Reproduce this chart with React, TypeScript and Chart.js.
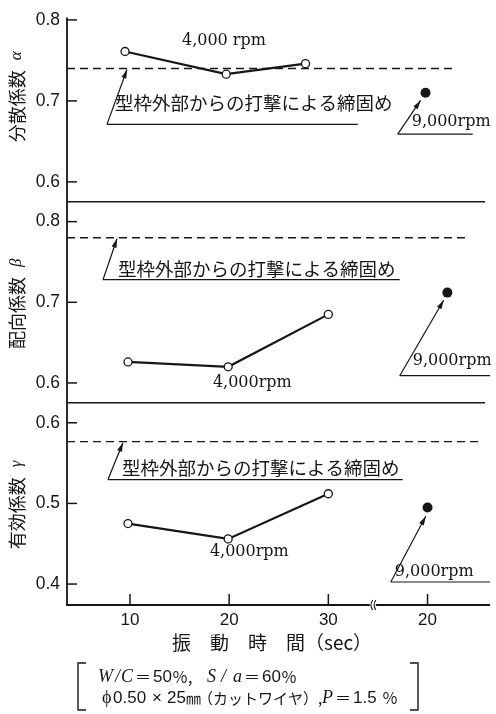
import React, { useEffect, useRef } from 'react';
import { Chart, registerables } from 'chart.js';

Chart.register(...registerables);

// ---------- data ----------
// x axis: vibration time (sec). 40 is the "20 sec" column at 9,000 rpm, after the axis break
const xTickValues = [10, 20, 30, 40];
const xTickLabels = ['10', '20', '30', '20'];
const xRange = [3.65, 46.3];
const xBreak = 34.48;

const alphaTicks = [0.6, 0.7, 0.8];
const betaTicks = [0.6, 0.7, 0.8];
const gammaTicks = [0.4, 0.5, 0.6];
const alphaRange = [0.5755, 0.803];
const betaRange = [0.5753, 0.8247];
const gammaRange = [0.374, 0.6247];

// 4,000 rpm (open circles)
const alphaTime4000 = [9.5, 19.7, 27.7];
const alpha4000 = [0.761, 0.733, 0.746];
const time4000 = [9.8, 19.9, 30.0];
const beta4000 = [0.626, 0.62, 0.685];
const gamma4000 = [0.475, 0.456, 0.512];

// 9,000 rpm, 20 sec (filled dots): alpha, beta, gamma
const time9000 = [39.8, 42.0, 40.0];
const value9000 = [0.71, 0.712, 0.495];

// external form-vibration compaction reference (dashed): alpha, beta, gamma
const refValues = [0.74, 0.78, 0.5765];
const refEnds = [42.54, 44.25, 45.26];

const yTitles = ['分散係数', '配向係数', '有効係数'];
const yGreek = ['α', 'β', 'γ'];
const rpm4000Labels = ['4,000 rpm', '4,000rpm', '4,000rpm'];
const rpm9000Label = '9,000rpm';
const refLabel = '型枠外部からの打撃による締固め';
const xTitle = '振　動　時　間（sec）';

// ---------- styles / layout ----------
const INK = '#161616';
const SERIF = '"Liberation Serif", "DejaVu Serif", serif';
const SANS = '"Liberation Sans", Arial, sans-serif';
const RPMFONT = '"DejaVu Serif", serif';
const CJK = '"Noto Sans CJK JP", sans-serif';
const separatorEnd = 45.8;

const panels = [
  {
    axis: 'yA', ticks: alphaTicks, range: alphaRange, weight: 185, order: 3,
    rpm4: { x: 15.24, y: 0.774 },
    refText: { x: 8.49, y: 0.698 },
    refUnder: { x0: 7.68, x1: 32.97, y: 0.671 },
    refTipX: 9.7,
    rpm9: { x: 38.41, y: 0.674 },
    rpm9Under: { x0: 37.0, x1: 44.56, y: 0.659 },
    rpm9Tip: { x: 39.3, y: 0.7006 },
    titleBottom: 0.649,
  },
  {
    axis: 'yB', ticks: betaTicks, range: betaRange, weight: 202, order: 2,
    rpm4: { x: 18.36, y: 0.6 },
    refText: { x: 8.79, y: 0.741 },
    refUnder: { x0: 7.28, x1: 37.2, y: 0.728 },
    refTipX: 8.69,
    rpm9: { x: 38.51, y: 0.627 },
    rpm9Under: { x0: 37.2, x1: 46.3, y: 0.609 },
    rpm9Tip: { x: 41.63, y: 0.7025 },
    titleBottom: 0.642,
  },
  {
    axis: 'yC', ticks: gammaTicks, range: gammaRange, weight: 203, order: 1,
    rpm4: { x: 18.06, y: 0.4395 },
    refText: { x: 9.19, y: 0.544 },
    refUnder: { x0: 7.78, x1: 37.5, y: 0.5296 },
    refTipX: 9.29,
    rpm9: { x: 36.7, y: 0.415 },
    rpm9Under: { x0: 36.3, x1: 46.3, y: 0.4025 },
    rpm9Tip: { x: 39.82, y: 0.484 },
    titleBottom: 0.443,
  },
];

const series4000 = [
  { x: alphaTime4000, y: alpha4000 },
  { x: time4000, y: beta4000 },
  { x: time4000, y: gamma4000 },
];

function line(ctx: CanvasRenderingContext2D, x0: number, y0: number, x1: number, y1: number) {
  ctx.beginPath();
  ctx.moveTo(x0, y0);
  ctx.lineTo(x1, y1);
  ctx.stroke();
}

function arrow(ctx: CanvasRenderingContext2D, x0: number, y0: number, x1: number, y1: number) {
  line(ctx, x0, y0, x1, y1);
  const a = Math.atan2(y1 - y0, x1 - x0);
  const L = 9;
  const W = 2.6;
  const c = Math.cos(a);
  const s = Math.sin(a);
  ctx.beginPath();
  ctx.moveTo(x1, y1);
  ctx.lineTo(x1 - L * c + W * s, y1 - L * s - W * c);
  ctx.lineTo(x1 - L * c - W * s, y1 - L * s + W * c);
  ctx.closePath();
  ctx.fill();
}

// text pieces drawn at given left x
function pieces(ctx: CanvasRenderingContext2D, segs: [string, string, number][], y: number) {
  for (const [t, f, x] of segs) {
    ctx.font = f;
    ctx.fillText(t, x, y);
  }
}

const overlay = {
  id: 'overlay',
  afterDatasetsDraw(chart: any) {
    const ctx: CanvasRenderingContext2D = chart.ctx;
    const xs = chart.scales.x;
    const area = chart.chartArea;
    const X = (v: number) => xs.getPixelForValue(v);
    ctx.save();
    ctx.strokeStyle = INK;
    ctx.fillStyle = INK;
    ctx.lineCap = 'butt';

    // axes
    ctx.lineWidth = 1.8;
    line(ctx, area.left, area.top, area.left, area.bottom);
    line(ctx, area.left - 0.9, area.bottom, area.right, area.bottom);

    // panel separators
    ctx.lineWidth = 1.5;
    panels.forEach((p) => {
      const s = chart.scales[p.axis];
      if (s.top > area.top + 2) line(ctx, area.left, s.top, X(separatorEnd), s.top);
    });

    // inward ticks
    ctx.lineWidth = 1.5;
    panels.forEach((p) => {
      const s = chart.scales[p.axis];
      p.ticks.forEach((t) => {
        const y = s.getPixelForValue(t);
        line(ctx, area.left, y, area.left + 10, y);
      });
    });
    xTickValues.forEach((v) => line(ctx, X(v), area.bottom, X(v), area.bottom - 11));

    // axis break mark
    const bx = X(xBreak);
    ctx.fillStyle = '#ffffff';
    ctx.fillRect(bx - 3, area.bottom - 2, 6, 4);
    ctx.fillStyle = INK;
    ctx.lineWidth = 1.1;
    [-1.6, 1.6].forEach((d) => {
      ctx.beginPath();
      ctx.moveTo(bx + d + 1.5, area.bottom - 5);
      ctx.quadraticCurveTo(bx + d - 2, area.bottom, bx + d + 1.5, area.bottom + 5);
      ctx.stroke();
    });

    // annotations per panel
    panels.forEach((p, i) => {
      const s = chart.scales[p.axis];
      const Y = (v: number) => s.getPixelForValue(v);
      ctx.textBaseline = 'middle';
      ctx.textAlign = 'left';

      ctx.font = `16px ${RPMFONT}`;
      ctx.fillText(rpm4000Labels[i], X(p.rpm4.x), Y(p.rpm4.y));

      ctx.font = `18.5px ${CJK}`;
      ctx.fillText(refLabel, X(p.refText.x), Y(p.refText.y));
      ctx.lineWidth = 1.2;
      line(ctx, X(p.refUnder.x0), Y(p.refUnder.y), X(p.refUnder.x1), Y(p.refUnder.y));
      arrow(ctx, X(p.refUnder.x0), Y(p.refUnder.y), X(p.refTipX), Y(refValues[i]) + 1);

      ctx.font = `16px ${RPMFONT}`;
      ctx.fillText(rpm9000Label, X(p.rpm9.x), Y(p.rpm9.y));
      line(ctx, X(p.rpm9Under.x0), Y(p.rpm9Under.y), X(p.rpm9Under.x1), Y(p.rpm9Under.y));
      arrow(ctx, X(p.rpm9Under.x0), Y(p.rpm9Under.y), X(p.rpm9Tip.x), Y(p.rpm9Tip.y));

      // rotated y title
      ctx.save();
      ctx.translate(17, Y(p.titleBottom));
      ctx.rotate(-Math.PI / 2);
      ctx.font = `18px ${CJK}`;
      ctx.fillText(yTitles[i], 0, 0);
      const w = ctx.measureText(yTitles[i]).width;
      ctx.font = `italic 17px ${SERIF}`;
      ctx.fillText(yGreek[i], w + 10, 0);
      ctx.restore();
    });

    // x title
    ctx.textAlign = 'left';
    ctx.textBaseline = 'middle';
    ctx.font = `19px ${CJK}`;
    ctx.fillText(xTitle, 172, area.bottom + 38);

    // conditions note with brackets
    const nTop = area.bottom + 58;
    const nBot = area.bottom + 105;
    ctx.lineWidth = 1.4;
    ctx.beginPath();
    ctx.moveTo(86, nTop); ctx.lineTo(78, nTop); ctx.lineTo(78, nBot); ctx.lineTo(86, nBot);
    ctx.stroke();
    ctx.beginPath();
    ctx.moveTo(410, nTop); ctx.lineTo(418, nTop); ctx.lineTo(418, nBot); ctx.lineTo(410, nBot);
    ctx.stroke();

    const it = `italic 18px ${SERIF}`;
    const sn = `17px ${SANS}`;
    const sr = `18px ${SERIF}`;
    const cj = `16px ${CJK}`;
    const cjs = `15px ${CJK}`;
    const y1 = area.bottom + 72;
    const y2 = area.bottom + 93;
    pieces(ctx, [
      ['W', it, 98], ['/', it, 115], ['C', it, 121],
      ['S', it, 207], ['/', it, 221], ['a', it, 233],
    ], y1);
    pieces(ctx, [['＝', cj, 135], ['50', sn, 153], ['％,', cj, 172], ['＝', cj, 244], ['60', sn, 262], ['％', cj, 281]], y1);
    pieces(ctx, [
      ['ϕ', sr, 102], ['0.50', sn, 113], ['×', sn, 152], ['25', sn, 167], ['㎜', cjs, 186],
      ['（カットワイヤ）,', cjs, 198], ['P', it, 322], ['＝', cj, 335], ['1.5', sn, 353], ['％', cj, 382],
    ], y2);

    ctx.restore();
  },
};

export default function App() {
  const ref = useRef<HTMLCanvasElement>(null);
  useEffect(() => {
    const canvas = ref.current;
    if (!canvas) return;
    const datasets: any[] = [];
    panels.forEach((p, i) => {
      datasets.push({
        label: `4000-${i}`,
        yAxisID: p.axis,
        data: series4000[i].x.map((x, k) => ({ x, y: series4000[i].y[k] })),
        showLine: true,
        borderColor: INK,
        borderWidth: 2.2,
        pointRadius: 4,
        pointBorderWidth: 1.3,
        pointBackgroundColor: '#ffffff',
        pointBorderColor: INK,
      });
      datasets.push({
        label: `9000-${i}`,
        yAxisID: p.axis,
        data: [{ x: time9000[i], y: value9000[i] }],
        showLine: false,
        pointRadius: 5,
        pointBackgroundColor: INK,
        pointBorderColor: INK,
        pointBorderWidth: 0,
      });
      datasets.push({
        label: `ref-${i}`,
        yAxisID: p.axis,
        data: [{ x: xRange[0], y: refValues[i] }, { x: refEnds[i], y: refValues[i] }],
        showLine: true,
        borderColor: INK,
        borderWidth: 1.3,
        borderDash: [8, 5],
        pointRadius: 0,
      });
    });

    const scales: any = {
      x: {
        type: 'linear',
        position: 'bottom',
        min: xRange[0],
        max: xRange[1],
        grid: { display: false, drawTicks: false },
        border: { display: false },
        afterBuildTicks: (s: any) => { s.ticks = xTickValues.map((v) => ({ value: v })); },
        afterFit: (s: any) => { s.height = 109; },
        ticks: {
          callback: (_v: any, idx: number) => xTickLabels[idx],
          font: { family: SANS, size: 17 },
          color: INK,
          padding: 5,
          maxRotation: 0,
          autoSkip: false,
        },
      },
    };
    panels.forEach((p) => {
      scales[p.axis] = {
        type: 'linear',
        position: 'left',
        stack: 'panels',
        stackWeight: p.weight,
        weight: p.order,
        min: p.range[0],
        max: p.range[1],
        grid: { display: false, drawTicks: false },
        border: { display: false },
        afterBuildTicks: (s: any) => { s.ticks = p.ticks.map((v) => ({ value: v })); },
        afterFit: (s: any) => { s.width = 67; },
        ticks: {
          callback: (v: any) => Number(v).toFixed(1),
          font: { family: SANS, size: 17.5 },
          color: INK,
          padding: 7,
          autoSkip: false,
        },
      };
    });

    const chart = new Chart(canvas, {
      type: 'scatter',
      data: { datasets },
      options: {
        animation: false,
        responsive: false,
        devicePixelRatio: 1,
        layout: { padding: { top: 15, right: 6, left: 0, bottom: 0 }, autoPadding: false },
        plugins: { legend: { display: false }, tooltip: { enabled: false } },
        scales,
      } as any,
      plugins: [overlay],
    });
    return () => chart.destroy();
  }, []);

  return (
    <div style={{ position: 'absolute', left: 0, top: 0, width: 496, height: 714, background: '#ffffff' }}>
      <canvas ref={ref} width={496} height={714} style={{ display: 'block', width: 496, height: 714 }} />
    </div>
  );
}
